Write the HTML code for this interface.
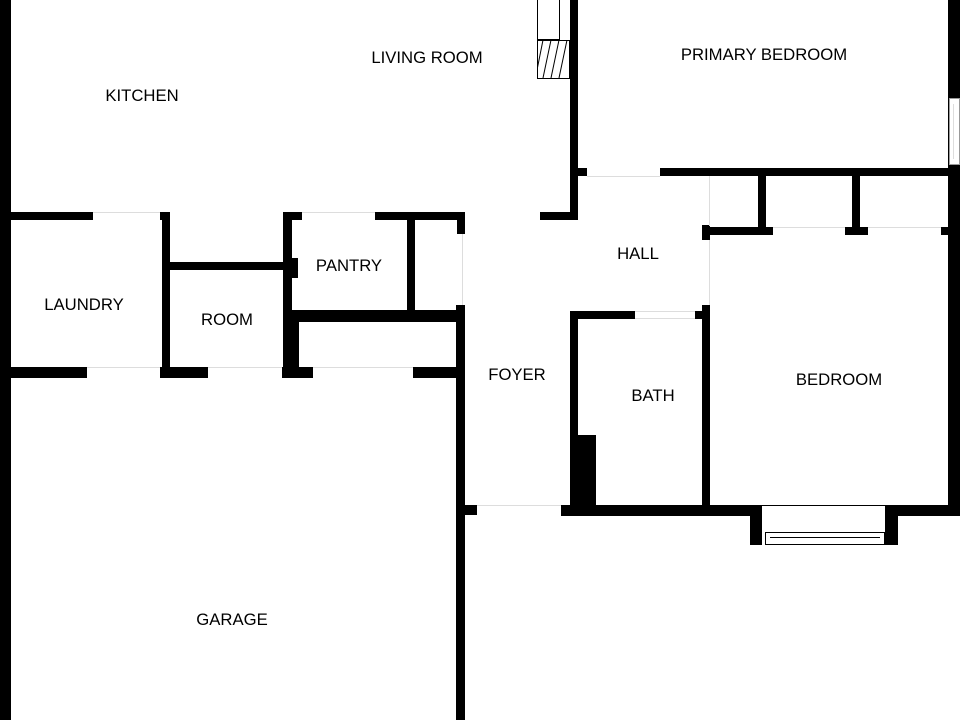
<!DOCTYPE html>
<html><head><style>
body{margin:0;background:#fff}
#c{position:relative;width:960px;height:720px;overflow:hidden;background:#fff;font-family:"Liberation Sans",sans-serif}
.w{position:absolute;background:#000}
.t{position:absolute;font-size:16.7px;color:#000;transform:translate(-50%,-50%);white-space:nowrap}
.g{position:absolute;background:#ddd}
</style></head><body><div id="c">
<div class="w" style="left:0;top:0;width:11px;height:720px"></div>
<div class="w" style="left:0;top:212px;width:93px;height:8px"></div>
<div class="g" style="left:93px;top:212px;width:67px;height:1px"></div>
<div class="w" style="left:160px;top:212px;width:10px;height:8px"></div>
<div class="w" style="left:162px;top:212px;width:8px;height:156px"></div>
<div class="w" style="left:170px;top:262px;width:118px;height:8px"></div>
<div class="w" style="left:285px;top:258px;width:13px;height:20px"></div>
<div class="w" style="left:283px;top:212px;width:9px;height:156px"></div>
<div class="w" style="left:283px;top:212px;width:19px;height:8px"></div>
<div class="g" style="left:302px;top:212px;width:73px;height:1px"></div>
<div class="w" style="left:375px;top:212px;width:90px;height:8px"></div>
<div class="w" style="left:457px;top:212px;width:8px;height:22px"></div>
<div class="w" style="left:407px;top:220px;width:8px;height:92px"></div>
<div class="w" style="left:290px;top:310px;width:175px;height:12px"></div>
<div class="w" style="left:290px;top:318px;width:9px;height:50px"></div>
<div class="w" style="left:0;top:367px;width:87px;height:11px"></div>
<div class="w" style="left:160px;top:367px;width:48px;height:11px"></div>
<div class="w" style="left:282px;top:367px;width:31px;height:11px"></div>
<div class="w" style="left:413px;top:367px;width:47px;height:11px"></div>
<div class="g" style="left:87px;top:367px;width:73px;height:1px"></div>
<div class="g" style="left:208px;top:367px;width:74px;height:1px"></div>
<div class="g" style="left:313px;top:367px;width:100px;height:1px"></div>
<div class="w" style="left:456px;top:305px;width:9px;height:415px"></div>
<div class="w" style="left:465px;top:505px;width:12px;height:10px"></div>
<div class="g" style="left:477px;top:505px;width:84px;height:1px"></div>
<div class="g" style="left:462px;top:234px;width:1px;height:71px"></div>
<div class="w" style="left:570px;top:0;width:8px;height:220px"></div>
<div class="w" style="left:540px;top:212px;width:38px;height:8px"></div>
<div style="position:absolute;left:537px;top:0;width:23px;height:40px;border:1px solid #000;box-sizing:border-box;border-top:none"></div>
<svg style="position:absolute;left:537px;top:40px" width="33" height="39"><rect x="0.5" y="0.5" width="32" height="38" fill="#fff" stroke="#000"/><g stroke="#000" stroke-width="1"><line x1="6" y1="38" x2="14" y2="0"/><line x1="14" y1="38" x2="22" y2="0"/><line x1="22" y1="38" x2="30" y2="0"/><line x1="0" y1="30" x2="6" y2="0"/></g></svg>
<div class="w" style="left:570px;top:168px;width:17px;height:8px"></div>
<div class="g" style="left:587px;top:176px;width:73px;height:1px"></div>
<div class="w" style="left:660px;top:168px;width:300px;height:8px"></div>
<div class="w" style="left:948px;top:0;width:12px;height:515px"></div>
<div style="position:absolute;left:949px;top:98px;width:11px;height:67px;background:#fff;border:1px solid #999;box-sizing:border-box"></div>
<div class="g" style="left:953px;top:104px;width:1px;height:55px"></div>
<div class="w" style="left:758px;top:176px;width:8px;height:56px"></div>
<div class="w" style="left:852px;top:176px;width:8px;height:56px"></div>
<div class="w" style="left:702px;top:227px;width:71px;height:8px"></div>
<div class="w" style="left:845px;top:227px;width:23px;height:8px"></div>
<div class="w" style="left:941px;top:227px;width:8px;height:8px"></div>
<div class="w" style="left:702px;top:225px;width:8px;height:15px"></div>
<div class="g" style="left:709px;top:176px;width:1px;height:50px"></div>
<div class="g" style="left:709px;top:240px;width:1px;height:65px"></div>
<div class="g" style="left:773px;top:227px;width:72px;height:1px"></div>
<div class="g" style="left:868px;top:227px;width:73px;height:1px"></div>
<div class="w" style="left:702px;top:305px;width:8px;height:210px"></div>
<div class="w" style="left:570px;top:311px;width:65px;height:8px"></div>
<div class="w" style="left:695px;top:311px;width:15px;height:8px"></div>
<div class="g" style="left:635px;top:311px;width:60px;height:1px"></div>
<div class="g" style="left:635px;top:318px;width:60px;height:1px"></div>
<div class="w" style="left:570px;top:311px;width:8px;height:204px"></div>
<div class="w" style="left:570px;top:435px;width:26px;height:75px"></div>
<div class="w" style="left:561px;top:505px;width:201px;height:11px"></div>
<div class="w" style="left:885px;top:505px;width:75px;height:11px"></div>
<div class="w" style="left:750px;top:505px;width:12px;height:40px"></div>
<div class="w" style="left:885px;top:505px;width:13px;height:40px"></div>
<div style="position:absolute;left:762px;top:505px;width:123px;height:27px;border-top:1px solid #000;box-sizing:border-box"></div>
<div style="position:absolute;left:765px;top:532px;width:120px;height:13px;border:1px solid #000;box-sizing:border-box;background:#fff"></div>
<div style="position:absolute;left:770px;top:537px;width:110px;height:1px;background:#000"></div>
<div class="t" style="left:427px;top:58px">LIVING ROOM</div>
<div class="t" style="left:142px;top:96px">KITCHEN</div>
<div class="t" style="left:764px;top:55px">PRIMARY BEDROOM</div>
<div class="t" style="left:638px;top:254px">HALL</div>
<div class="t" style="left:349px;top:266px">PANTRY</div>
<div class="t" style="left:84px;top:305px">LAUNDRY</div>
<div class="t" style="left:227px;top:320px">ROOM</div>
<div class="t" style="left:517px;top:375px">FOYER</div>
<div class="t" style="left:653px;top:396px">BATH</div>
<div class="t" style="left:839px;top:380px">BEDROOM</div>
<div class="t" style="left:232px;top:620px">GARAGE</div>
</div></body></html>
